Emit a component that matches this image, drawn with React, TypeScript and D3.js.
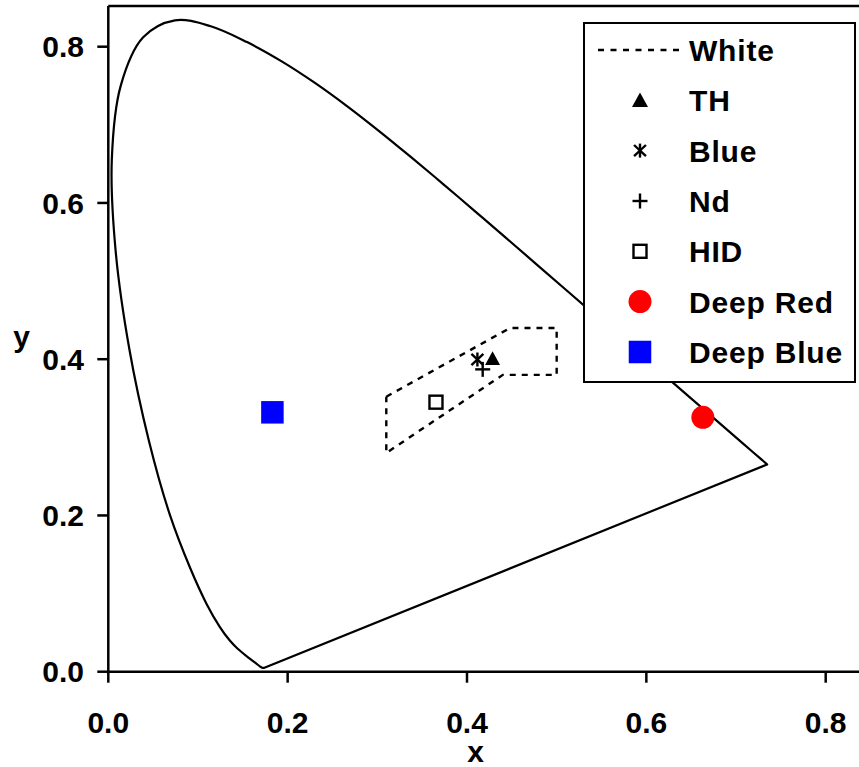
import React from "react";
import * as d3 from "d3";

// CIE 1931 spectral locus (x, y)
const locusX = [0.1741, 0.1733, 0.1714, 0.1689, 0.1644, 0.1566, 0.144, 0.1355, 0.1241, 0.1096, 0.0913, 0.0687, 0.0454, 0.0235, 0.0082, 0.0039, 0.0139, 0.0389, 0.0743, 0.1142, 0.1547, 0.1929, 0.2296, 0.2658, 0.3016, 0.3373, 0.3731, 0.4087, 0.4441, 0.4788, 0.5125, 0.5448, 0.5752, 0.6029, 0.627, 0.6482, 0.6658, 0.6915, 0.7079, 0.719, 0.726, 0.73, 0.7334, 0.7347];
const locusY = [0.005, 0.0048, 0.0051, 0.0069, 0.0109, 0.0177, 0.0297, 0.0399, 0.0578, 0.0868, 0.1327, 0.2007, 0.295, 0.4127, 0.5384, 0.6548, 0.7502, 0.812, 0.8338, 0.8262, 0.8059, 0.7816, 0.7543, 0.7243, 0.6923, 0.6589, 0.6245, 0.5896, 0.5547, 0.5202, 0.4866, 0.4544, 0.4242, 0.3965, 0.3725, 0.3514, 0.334, 0.3083, 0.292, 0.2809, 0.274, 0.27, 0.2666, 0.2653];

// White region boundary
const whiteX = [0.31, 0.448, 0.5, 0.5, 0.44, 0.31, 0.31];
const whiteY = [0.352, 0.44, 0.44, 0.38, 0.38, 0.28, 0.352];

// Point series
const seriesNames = ["TH", "Blue", "Nd", "HID", "Deep Red", "Deep Blue"];
const seriesX = [0.4285, 0.4116, 0.4175, 0.3654, 0.663, 0.183];
const seriesY = [0.4006, 0.3996, 0.387, 0.345, 0.3256, 0.332];

const xTicks = [0, 0.2, 0.4, 0.6, 0.8];
const yTicks = [0, 0.2, 0.4, 0.6, 0.8];

const FONT = "'Liberation Sans', Arial, sans-serif";

function Marker({ kind, cx, cy, legend }: { kind: string; cx: number; cy: number; legend?: boolean }) {
  if (kind === "TH") {
    const s = legend ? 16 : 15;
    const h = s * 0.85;
    return <path d={`M${cx},${cy - h / 2 - 1}L${cx + s / 2},${cy + h / 2}L${cx - s / 2},${cy + h / 2}Z`} fill="#000" />;
  }
  if (kind === "Blue") {
    const r = 7;
    return (
      <g stroke="#000" strokeWidth={2.4}>
        <line x1={cx} y1={cy - r} x2={cx} y2={cy + r} />
        <line x1={cx - r * 0.85} y1={cy - r * 0.8} x2={cx + r * 0.85} y2={cy + r * 0.8} />
        <line x1={cx - r * 0.85} y1={cy + r * 0.8} x2={cx + r * 0.85} y2={cy - r * 0.8} />
      </g>
    );
  }
  if (kind === "Nd") {
    const r = 7.5;
    return (
      <g stroke="#000" strokeWidth={2.4}>
        <line x1={cx} y1={cy - r} x2={cx} y2={cy + r} />
        <line x1={cx - r} y1={cy} x2={cx + r} y2={cy} />
      </g>
    );
  }
  if (kind === "HID") {
    const s = 13;
    return <rect x={cx - s / 2} y={cy - s / 2} width={s} height={s} fill="#fff" stroke="#000" strokeWidth={2.4} />;
  }
  if (kind === "Deep Red") {
    return <circle cx={cx} cy={cy} r={11.5} fill="#ff0000" />;
  }
  if (kind === "Deep Blue") {
    const s = 22.5;
    return <rect x={cx - s / 2} y={cy - s / 2} width={s} height={s} fill="#0000ff" />;
  }
  return null;
}

export default function App() {
  const x = d3.scaleLinear().domain([0, 0.8]).range([108.3, 825.7]);
  const y = d3.scaleLinear().domain([0, 0.8]).range([671.7, 46.7]);

  const lineGen = d3
    .line<number>()
    .x((_, i) => x(locusX[i]))
    .y((_, i) => y(locusY[i]))
    .curve(d3.curveCatmullRom.alpha(0.5));
  const locusPath = lineGen(locusX) + "Z";

  const whiteGen = d3
    .line<number>()
    .x((_, i) => x(whiteX[i]))
    .y((_, i) => y(whiteY[i]));
  const whitePath = whiteGen(whiteX) || "";

  const left = x(0);
  const right = x(0.84);
  const top = y(0.852);
  const bottom = y(0);

  const legendX = 584;
  const legendY = 23;
  const legendW = 271;
  const legendH = 359;
  const markerX = 640;
  const textX = 689;
  const baselines = [61, 111.3, 161.6, 212, 262.3, 312.6, 363];

  return (
    <svg
      width={859}
      height={767}
      style={{ position: "absolute", left: 0, top: 0, background: "#fff" }}
      fontFamily={FONT}
      fontWeight="bold"
    >
      {/* frame */}
      <line x1={left} y1={top} x2={right} y2={top} stroke="#000" strokeWidth={2.5} />
      <line x1={right} y1={top} x2={right} y2={bottom} stroke="#000" strokeWidth={2.5} />
      <line x1={left} y1={top} x2={left} y2={bottom} stroke="#000" strokeWidth={2.5} />
      <line x1={left} y1={bottom} x2={right} y2={bottom} stroke="#000" strokeWidth={2.5} />

      {/* ticks */}
      {xTicks.map((t) => (
        <g key={"x" + t}>
          <line x1={x(t)} y1={bottom} x2={x(t)} y2={bottom + 11} stroke="#000" strokeWidth={2.5} />
          <text x={x(t)} y={733} textAnchor="middle" fontSize={30}>
            {d3.format(".1f")(t)}
          </text>
        </g>
      ))}
      {yTicks.map((t) => (
        <g key={"y" + t}>
          <line x1={left} y1={y(t)} x2={left - 11} y2={y(t)} stroke="#000" strokeWidth={2.5} />
          <text x={84} y={y(t) + 10.7} textAnchor="end" fontSize={30}>
            {d3.format(".1f")(t)}
          </text>
        </g>
      ))}

      {/* axis titles */}
      <text x={475.5} y={762} textAnchor="middle" fontSize={30}>
        x
      </text>
      <text x={21.5} y={347} textAnchor="middle" fontSize={30}>
        y
      </text>

      {/* spectral locus */}
      <path d={locusPath} fill="none" stroke="#000" strokeWidth={2.2} strokeLinejoin="round" />

      {/* white region */}
      <path d={whitePath} fill="none" stroke="#000" strokeWidth={2.4} strokeDasharray="6,6" />

      {/* points */}
      {seriesNames.map((n, i) => (
        <Marker key={n} kind={n} cx={x(seriesX[i])} cy={y(seriesY[i])} />
      ))}

      {/* legend */}
      <rect x={legendX} y={legendY} width={legendW} height={legendH} fill="#fff" stroke="#000" strokeWidth={2} />
      <line x1={598} y1={baselines[0] - 11} x2={682} y2={baselines[0] - 11} stroke="#000" strokeWidth={2.4} strokeDasharray="6,6.5" />
      <text x={textX} y={baselines[0]} fontSize={30} letterSpacing={0.8}>
        White
      </text>
      {seriesNames.map((n, i) => (
        <g key={"l" + n}>
          <Marker kind={n} cx={markerX} cy={baselines[i + 1] - 11} legend />
          <text x={textX} y={baselines[i + 1]} fontSize={30} letterSpacing={0.8}>
            {n}
          </text>
        </g>
      ))}
    </svg>
  );
}
